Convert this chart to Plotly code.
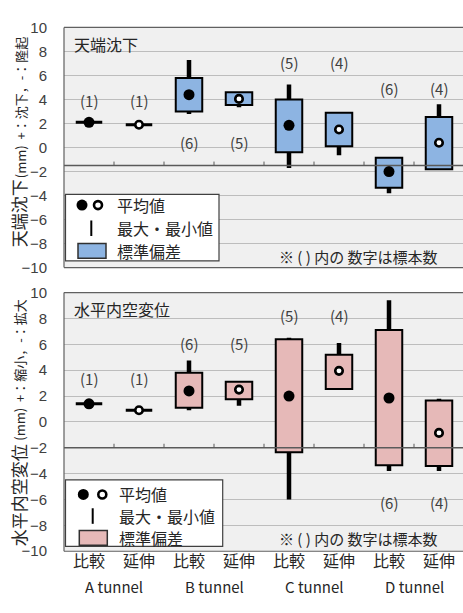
import plotly.graph_objects as go

# ---- data -----------------------------------------------------------
cases = ["比較", "延伸", "比較", "延伸", "比較", "延伸", "比較", "延伸"]
tunnels = ["A tunnel", "B tunnel", "C tunnel", "D tunnel"]
counts = [1, 1, 6, 5, 5, 4, 6, 4]

# crown settlement (mm)
crown_mean = [2.1, 1.9, 4.4, 4.05, 1.85, 1.5, -2.0, 0.4]
crown_sd_lo = [2.1, 1.9, 3.0, 3.55, -0.4, 0.1, -3.35, -1.8]
crown_sd_hi = [2.1, 1.9, 5.8, 4.6, 4.0, 2.9, -0.85, 2.55]
crown_max = [2.1, 1.9, 7.3, 4.6, 5.25, 2.9, -0.85, 3.6]
crown_min = [2.1, 1.9, 2.8, 3.35, -1.7, -0.65, -3.8, -1.8]

# horizontal convergence (mm)
conv_mean = [1.4, 0.9, 2.4, 2.5, 2.0, 3.95, 1.85, -0.85]
conv_sd_lo = [1.4, 0.9, 1.1, 1.75, -2.35, 2.55, -3.35, -3.4]
conv_sd_hi = [1.4, 0.9, 3.8, 3.1, 6.4, 5.2, 7.1, 1.65]
conv_max = [1.4, 0.9, 4.75, 3.1, 6.5, 6.1, 9.4, 1.8]
conv_min = [1.4, 0.9, 0.9, 1.25, -6.0, 2.55, -3.8, -3.8]

y_ticks = [-10, -8, -6, -4, -2, 0, 2, 4, 6, 8, 10]

# ---- layout constants ------------------------------------------------
W, H = 463, 613
PLOT_L = 64
BOX_W = 0.53
TEXT = "#262626"
CJK = "Noto Sans CJK JP"
NUM = "Liberation Sans, Noto Sans CJK JP"

crown_count_pos = [3.9, 3.9, 0.45, 0.45, 7.1, 7.1, 4.9, 4.9]
conv_count_pos = [3.35, 3.35, 6.1, 6.1, 8.2, 8.2, -6.2, -6.2]


def px(x):
    return x / W


def py(y):
    return 1 - y / H


fig = go.Figure()
shapes = []
annotations = []
xs = list(range(len(cases)))


def panel(xa, ya, mean, lo, hi, mx, mn, count_pos, fill, axis_at,
          title, ytitle, legend_box):
    # whiskers: box edge to max / min
    wx, wy = [], []
    for i in xs:
        if mx[i] > hi[i]:
            wx += [i, i, None]
            wy += [hi[i], mx[i], None]
        if mn[i] < lo[i]:
            wx += [i, i, None]
            wy += [lo[i], mn[i], None]
    fig.add_trace(go.Scatter(x=wx, y=wy, mode="lines", xaxis=xa, yaxis=ya,
                             line=dict(color="black", width=4.5),
                             hoverinfo="skip", showlegend=False))
    # standard deviation boxes
    bi = [i for i in xs if hi[i] > lo[i]]
    fig.add_trace(go.Bar(x=bi, y=[hi[i] - lo[i] for i in bi],
                         base=[lo[i] for i in bi], width=BOX_W,
                         xaxis=xa, yaxis=ya,
                         marker=dict(color=fill, line=dict(color="black", width=2)),
                         showlegend=False))
    # single-sample cases drawn as a flat bar at the mean
    sx, sy = [], []
    for i in xs:
        if hi[i] == lo[i]:
            sx += [i - BOX_W / 2, i + BOX_W / 2, None]
            sy += [mean[i], mean[i], None]
    fig.add_trace(go.Scatter(x=sx, y=sy, mode="lines", xaxis=xa, yaxis=ya,
                             line=dict(color="black", width=3),
                             hoverinfo="skip", showlegend=False))
    # means: filled for 比較, open for 延伸
    fi = xs[0::2]
    oi = xs[1::2]
    fig.add_trace(go.Scatter(x=fi, y=[mean[i] for i in fi], mode="markers",
                             xaxis=xa, yaxis=ya,
                             marker=dict(color="black", size=11, line=dict(width=0)),
                             showlegend=False))
    fig.add_trace(go.Scatter(x=oi, y=[mean[i] for i in oi], mode="markers",
                             xaxis=xa, yaxis=ya,
                             marker=dict(color="white", size=7.5,
                                         line=dict(color="black", width=2.6)),
                             showlegend=False))
    xr = xa
    yr = ya
    # sample counts
    for i in xs:
        annotations.append(dict(x=i, y=count_pos[i], xref=xr, yref=yr,
                                text=f"({counts[i]})", showarrow=False,
                                font=dict(family=CJK, size=15, color="#404040")))
    # horizontal axis line with category separators
    shapes.append(dict(type="line", xref=f"{xr} domain", yref=yr,
                       x0=0, x1=1, y0=axis_at, y1=axis_at,
                       line=dict(color="#5a5a5a", width=1.6), layer="above"))
    for k in range(len(cases) - 1):
        shapes.append(dict(type="line", xref=xr, yref=yr, ysizemode="pixel",
                           yanchor=axis_at, x0=k + 0.5, x1=k + 0.5, y0=0, y1=4,
                           line=dict(color="#5a5a5a", width=1), layer="above"))
    # frame (left, top, bottom)
    for (x0, y0, x1, y1) in [(0, 0, 0, 1), (0, 1, 1, 1), (0, 0, 1, 0)]:
        shapes.append(dict(type="line", xref=f"{xr} domain", yref=f"{yr} domain",
                           x0=x0, y0=y0, x1=x1, y1=y1,
                           line=dict(color="#606060", width=1.2), layer="above"))
    # panel title
    annotations.append(dict(x=0.02, y=0.99, xref=f"{xr} domain", yref=f"{yr} domain",
                            xanchor="left", yanchor="top", text=title,
                            showarrow=False,
                            font=dict(family=CJK, size=16, color=TEXT)))
    lb = legend_box
    # note
    annotations.append(dict(x=px(277), y=py(lb["note_y"]), xref="paper",
                            yref="paper", xanchor="left", yanchor="middle",
                            text="※ ( ) 内の 数字は標本数", showarrow=False,
                            font=dict(family=CJK, size=15, color=TEXT)))
    # y-axis title: large quantity name, smaller unit / sign convention
    big, small = ytitle
    annotations.append(dict(x=px(18), y=py(lb["yt_big"]), xref="paper", yref="paper",
                            textangle=-90, showarrow=False, text=big,
                            xanchor="center", yanchor="middle",
                            font=dict(family=CJK, size=17, color=TEXT)))
    annotations.append(dict(x=px(20), y=py(lb["yt_small"]), xref="paper", yref="paper",
                            textangle=-90, showarrow=False, text=small,
                            xanchor="center", yanchor="middle",
                            font=dict(family=CJK, size=13, color=TEXT)))
    # legend
    shapes.append(dict(type="rect", xref="paper", yref="paper",
                       x0=px(lb["x0"]), x1=px(lb["x1"]), y0=py(lb["y1"]), y1=py(lb["y0"]),
                       fillcolor="white", line=dict(color="#404040", width=1.2),
                       layer="above"))
    r1, r2, r3 = lb["rows"]
    shapes.append(dict(type="circle", xref="paper", yref="paper",
                       xsizemode="pixel", ysizemode="pixel",
                       xanchor=px(lb["dot"]), yanchor=py(r1),
                       x0=-5.5, x1=5.5, y0=-5.5, y1=5.5,
                       fillcolor="black", line=dict(width=0), layer="above"))
    shapes.append(dict(type="circle", xref="paper", yref="paper",
                       xsizemode="pixel", ysizemode="pixel",
                       xanchor=px(lb["ring"]), yanchor=py(r1),
                       x0=-4, x1=4, y0=-4, y1=4,
                       fillcolor="white", line=dict(color="black", width=2.6),
                       layer="above"))
    shapes.append(dict(type="line", xref="paper", yref="paper",
                       x0=px(lb["bar"]), x1=px(lb["bar"]),
                       y0=py(r2 - 8), y1=py(r2 + 8),
                       line=dict(color="black", width=2), layer="above"))
    shapes.append(dict(type="rect", xref="paper", yref="paper",
                       x0=px(lb["sw0"]), x1=px(lb["sw0"] + 28),
                       y0=py(r3 + 7.5), y1=py(r3 - 7.5),
                       fillcolor=fill, line=dict(color="#303030", width=1.5),
                       layer="above"))
    for r, t in zip(lb["rows"], ["平均値", "最大・最小値", "標準偏差"]):
        annotations.append(dict(x=px(lb["tx"]), y=py(r), xref="paper", yref="paper",
                                xanchor="left", yanchor="middle", text=t,
                                showarrow=False,
                                font=dict(family=CJK, size=16, color=TEXT)))


panel("x", "y", crown_mean, crown_sd_lo, crown_sd_hi, crown_max, crown_min,
      crown_count_pos, "#8db4e2", -1.5, "天端沈下",
      ("天端沈下", "(mm)  +：沈下，-：隆起"),
      dict(x0=65.5, x1=219, y0=190.7, y1=259, rows=[201.7, 225.5, 248.8],
           dot=82, ring=98, bar=91.3, sw0=78, tx=115, note_y=255,
           yt_big=210, yt_small=102))
panel("x2", "y2", conv_mean, conv_sd_lo, conv_sd_hi, conv_max, conv_min,
      conv_count_pos, "#e6b9b8", -2, "水平内空変位",
      ("水平内空変位", "(mm)  +：縮小，-：拡大"),
      dict(x0=65.5, x1=222.7, y0=484.3, y1=552.7, rows=[499.3, 521.5, 544],
           dot=83.3, ring=102.3, bar=92.7, sw0=79.3, tx=117, note_y=545,
           yt_big=500, yt_small=372))

# category labels under the lower panel
for i, c in enumerate(cases):
    annotations.append(dict(x=i, y=py(581.5), xref="x2", yref="paper",
                            text=c, showarrow=False,
                            font=dict(family=CJK, size=16, color=TEXT)))
for j, t in enumerate(tunnels):
    annotations.append(dict(x=2 * j + 0.5, y=py(607), xref="x2", yref="paper",
                            text=t, showarrow=False,
                            font=dict(family=CJK, size=15, color=TEXT)))

x_range = [-0.5, -0.5 + (W - PLOT_L) / 50]
xcommon = dict(range=x_range, showticklabels=False, showgrid=False,
               zeroline=False, showline=False, ticks="", fixedrange=True,
               domain=[px(PLOT_L), 1])
ycommon = dict(range=[-10, 10], tickvals=y_ticks, showgrid=True,
               gridcolor="#bdbdbd", gridwidth=1, zeroline=False, showline=False,
               ticks="", ticklabelstandoff=16,
               tickfont=dict(family=NUM, size=15, color="#404040"))

fig.update_layout(
    width=W, height=H,
    margin=dict(l=0, r=0, t=0, b=0),
    paper_bgcolor="white",
    plot_bgcolor="#f0f0f0",
    barmode="overlay",
    showlegend=False,
    xaxis=dict(**xcommon, anchor="y"),
    yaxis=dict(**ycommon, domain=[py(266), py(19)], anchor="x"),
    xaxis2=dict(**xcommon, anchor="y2"),
    yaxis2=dict(**ycommon, domain=[py(557.7), py(291.7)], anchor="x2"),
    shapes=shapes,
    annotations=annotations,
)

fig.write_html("out.html")
